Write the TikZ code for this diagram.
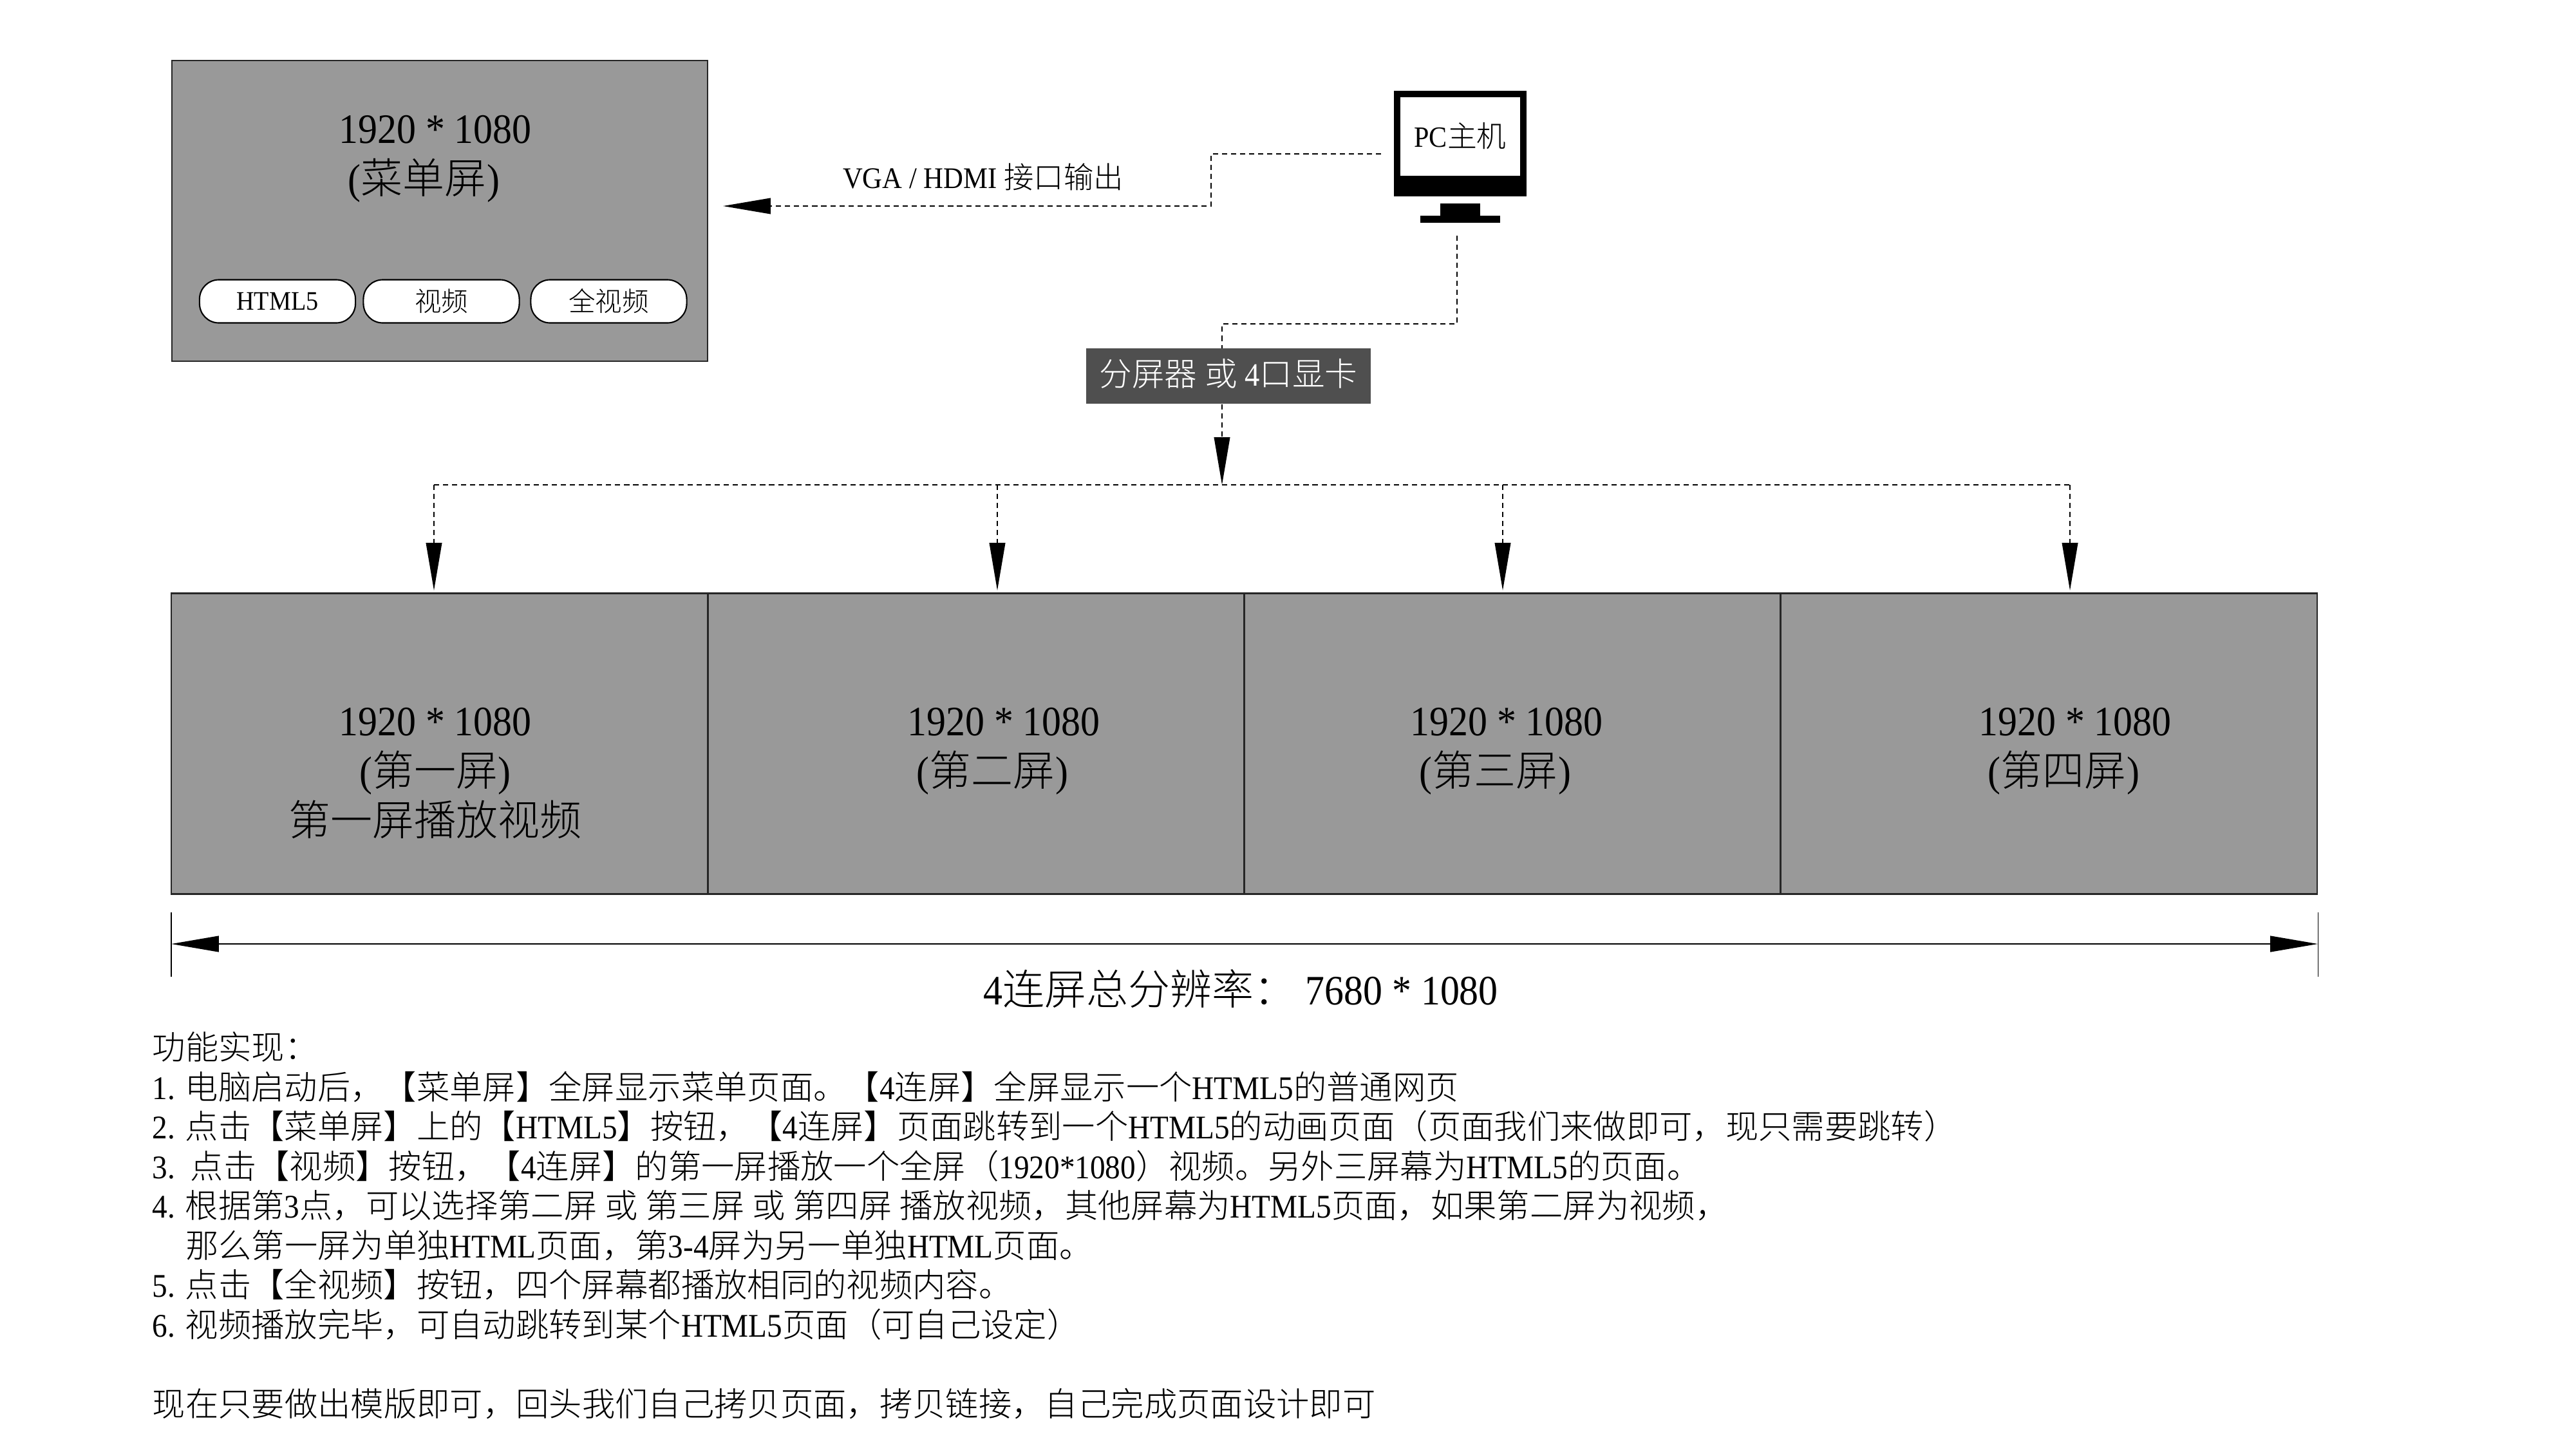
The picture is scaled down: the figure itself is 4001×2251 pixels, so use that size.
\documentclass[tikz,border=0pt]{standalone}
\usepackage{fontspec}
\setmainfont[FakeStretch=0.92]{Liberation Serif}
\newfontfamily\cjk{Noto Sans CJK SC Light}
\usetikzlibrary{arrows.meta}
%% Chinese characters switch to the CJK font by themselves
\newXeTeXintercharclass\cjkclass
\newcount\cjkcode
\cjkcode="3000
\loop\ifnum\cjkcode<"A000 \XeTeXcharclass\cjkcode=\cjkclass \advance\cjkcode by 1 \repeat
\cjkcode="FF00
\loop\ifnum\cjkcode<"FFF0 \XeTeXcharclass\cjkcode=\cjkclass \advance\cjkcode by 1 \repeat
\XeTeXinterchartokenstate=1
\XeTeXinterchartoks 0 \cjkclass = {\cjk}
\XeTeXinterchartoks 4095 \cjkclass = {\cjk}
\XeTeXinterchartoks \cjkclass 0 = {\rmfamily}
\XeTeXinterchartoks \cjkclass 4095 = {\rmfamily}
\definecolor{screengray}{HTML}{999999}
\definecolor{splittergray}{HTML}{4F4F4F}
\begin{document}
\begin{tikzpicture}[x=0.01cm,y=-0.01cm,
    screen/.style={draw=black!85, line width=0.7pt, fill=screengray, inner sep=0pt, minimum height=4.67cm},
    screentext/.style={align=center, inner sep=0pt, anchor=north, font=\fontsize{18.5pt}{22pt}\selectfont},
    menubutton/.style={draw, line width=0.6pt, fill=white, rounded corners=0.3cm, inner sep=0pt, minimum width=2.42cm, minimum height=0.67cm, font=\fontsize{11.8pt}{14pt}\selectfont},
    black block/.style={fill=black, inner sep=0pt},
    wire/.style={line width=0.5pt, dash pattern=on 2.3pt off 1.7pt},
    wire arrow/.style={wire, -{Triangle[length=21pt,width=7pt]}}]
\useasboundingbox (0,0) rectangle (4001,2251);
%% the menu screen with its three buttons
\node[screen, minimum width=8.32cm] (menu) at (683,327.5) {};
\node[screentext] (menutext) at (676,179) {1920 * 1080\\(菜单屏)\hspace*{10pt}};
\node[menubutton] (html) at (431,468) {HTML5};
\node[menubutton] (video) at (685.5,468) {\raisebox{-0.3pt}{视频}};
\node[menubutton] (fullvideo) at (945.5,468) {\raisebox{-0.3pt}{全视频}};
%% the PC, drawn as a little monitor
\node[black block, minimum width=2.05cm, minimum height=1.64cm] (pc) at (2268,223) {};
\node[fill=white, inner sep=0pt, minimum width=1.85cm, minimum height=1.22cm, font=\fontsize{13pt}{14pt}\selectfont] (pcscreen) at (2268,212) {\raisebox{1.5pt}{PC主机}};
\node[black block, minimum width=0.62cm, minimum height=0.2cm] (pcneck) at (2268,326) {};
\node[black block, minimum width=1.24cm, minimum height=0.11cm] (pcbase) at (2268,340.5) {};
%% the splitter and the four screens
\node[fill=splittergray, text=white, inner sep=0pt, minimum width=4.42cm, minimum height=0.86cm, font=\fontsize{14.4pt}{17pt}\selectfont] (splitter) at (1908,584) {\raisebox{3pt}{分屏器 或 4口显卡}};
\node[screen, minimum width=8.33cm] (first) at (683,1155) {};
\node[screen, minimum width=8.33cm] (second) at (1516,1155) {};
\node[screen, minimum width=8.33cm] (third) at (2349,1155) {};
\node[screen, minimum width=8.33cm] (fourth) at (3182,1155) {};
\node[screentext] (firsttext) at (676,1099) {1920 * 1080\\(第一屏)\hspace*{10pt}\\第一屏播放视频};
\node[screentext] (secondtext) at (1559,1099) {1920 * 1080\\(第二屏)\hspace*{10pt}};
\node[screentext] (thirdtext) at (2340,1099) {1920 * 1080\\(第三屏)\hspace*{10pt}};
\node[screentext] (fourthtext) at (3223,1099) {1920 * 1080\\(第四屏)\hspace*{10pt}};
%% free ends of the dashed lines
\coordinate (pcout) at (2145,239);
\coordinate (menuin) at (1123,320);
\coordinate (pcdown) at (2263,366);
\coordinate (splitterin) at (1898,541);
\coordinate (busin) at (1898,753);
\coordinate (bus1) at (674,753);
\coordinate (bus2) at (1549,753);
\coordinate (bus3) at (2334,753);
\coordinate (bus4) at (3215,753);
\coordinate (drop1) at (674,917);
\coordinate (drop2) at (1549,917);
\coordinate (drop3) at (2334,917);
\coordinate (drop4) at (3215,917);
\draw[wire arrow] (pcout) -- (1881,239) -- (1881,320) -- (menuin);
\node[inner sep=0pt, font=\fontsize{13.2pt}{14pt}\selectfont] (vgalabel) at (1527,275) {VGA / HDMI 接口输出};
\draw[wire] (pcdown) -- (2263,503) -- (1898,503) -- (splitterin);
\draw[wire arrow] (splitter.south -| busin) -- (busin);
\draw[wire] (bus1) -- (bus4);
\draw[wire arrow] (bus1) -- (drop1);
\draw[wire arrow] (bus2) -- (drop2);
\draw[wire arrow] (bus3) -- (drop3);
\draw[wire arrow] (bus4) -- (drop4);
%% total width of the four screens
\coordinate (dimleft) at (266,1466);
\coordinate (dimright) at (3600,1466);
\draw[line width=0.3pt] (266,1417) -- (266,1517);
\draw[line width=0.3pt] (3600,1417) -- (3600,1517);
\draw[line width=0.7pt, {Triangle[length=21pt,width=7pt]}-{Triangle[length=21pt,width=7pt]}] (dimleft) -- (dimright);
\node[inner sep=0pt, font=\fontsize{18.5pt}{22pt}\selectfont] (total) at (1927,1536) {4连屏总分辨率：\ 7680 * 1080};
%% the notes below
\node[anchor=north west, align=left, inner sep=0pt, font=\fontsize{14.6pt}{17.5pt}\selectfont] (notes) at (236,1602) {功能实现：\\
1. 电脑启动后，【菜单屏】全屏显示菜单页面。【4连屏】全屏显示一个HTML5的普通网页\\
2. 点击【菜单屏】上的【HTML5】按钮，【4连屏】页面跳转到一个HTML5的动画页面（页面我们来做即可，现只需要跳转）\\
3.\ \ 点击【视频】按钮，【4连屏】的第一屏播放一个全屏（1920*1080）视频。另外三屏幕为HTML5的页面。\\
4. 根据第3点，可以选择第二屏 或 第三屏 或 第四屏 播放视频，其他屏幕为HTML5页面，如果第二屏为视频，\\
\hspace*{14.6pt}那么第一屏为单独HTML页面，第3-4屏为另一单独HTML页面。\\
5. 点击【全视频】按钮，四个屏幕都播放相同的视频内容。\\
6. 视频播放完毕，可自动跳转到某个HTML5页面（可自己设定）\\[17.5pt]
现在只要做出模版即可，回头我们自己拷贝页面，拷贝链接，自己完成页面设计即可};
\end{tikzpicture}
\end{document}
